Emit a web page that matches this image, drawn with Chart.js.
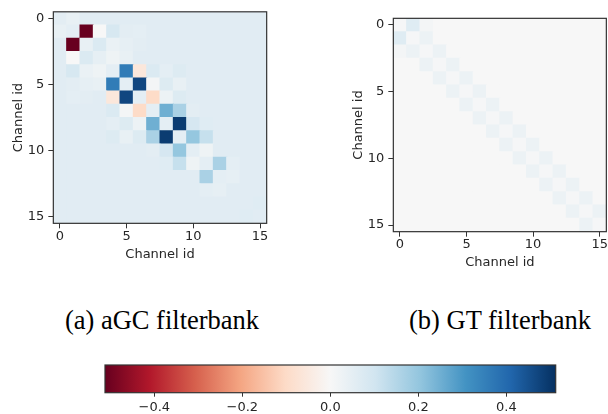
<!DOCTYPE html>
<html>
<head>
<meta charset="utf-8">
<script src="https://cdn.jsdelivr.net/npm/chart.js@4.4.1/dist/chart.umd.min.js"></script>
<style>
  html, body { margin: 0; padding: 0; background: #fff; }
  body { width: 608px; height: 414px; position: relative; overflow: hidden; }
  canvas { position: absolute; }
  .caption { position: absolute; top: 307px; font-family: "Liberation Serif", "DejaVu Serif", serif;
             font-size: 26.5px; line-height: 1; color: #000; text-align: center; white-space: nowrap; }
</style>
</head>
<body>
<canvas id="agcChart" style="left:0px;top:0px;width:280px;height:272px"></canvas>
<canvas id="gtChart" style="left:340px;top:0px;width:268px;height:280px"></canvas>
<canvas id="cbarChart" style="left:90px;top:355px;width:480px;height:59px"></canvas>
<div class="caption" style="left:62px;width:200px">(a) aGC filterbank</div>
<div class="caption" style="left:400px;width:200px">(b) GT filterbank</div>
<script>
let channels = [0, 1, 2, 3, 4, 5, 6, 7, 8, 9, 10, 11, 12, 13, 14, 15];
let axisTicks = [0, 5, 10, 15];
let cbarTicks = [-0.4, -0.2, 0.0, 0.2, 0.4];
let vMin = -0.512;
let vMax = 0.512;

// aGC filterbank correlation (row = channel id on y, column = channel id on x)
let agcMatrix = [
  [0.055, 0.04, 0.06, 0.06, 0.06, 0.06, 0.06, 0.06, 0.06, 0.06, 0.06, 0.06, 0.06, 0.06, 0.06, 0.06],
  [0.04, 0.05, -0.51, 0.0, 0.085, 0.055, 0.05, 0.06, 0.06, 0.06, 0.06, 0.06, 0.06, 0.06, 0.06, 0.06],
  [0.06, -0.51, 0.04, 0.075, 0.035, 0.045, 0.055, 0.06, 0.06, 0.06, 0.06, 0.06, 0.06, 0.06, 0.06, 0.06],
  [0.06, 0.0, 0.075, 0.045, 0.025, 0.04, 0.06, 0.06, 0.06, 0.06, 0.06, 0.06, 0.06, 0.06, 0.06, 0.06],
  [0.06, 0.085, 0.035, 0.025, 0.05, 0.36, -0.06, 0.075, 0.05, 0.07, 0.06, 0.06, 0.06, 0.06, 0.06, 0.06],
  [0.06, 0.055, 0.045, 0.04, 0.36, 0.05, 0.47, 0.01, 0.07, 0.04, 0.06, 0.06, 0.06, 0.06, 0.06, 0.06],
  [0.06, 0.05, 0.055, 0.06, -0.06, 0.47, 0.05, -0.1, 0.03, 0.07, 0.06, 0.06, 0.06, 0.06, 0.06, 0.06],
  [0.06, 0.06, 0.06, 0.06, 0.075, 0.01, -0.1, 0.05, 0.25, 0.165, 0.055, 0.06, 0.06, 0.06, 0.06, 0.06],
  [0.06, 0.06, 0.06, 0.06, 0.05, 0.07, 0.03, 0.25, 0.05, 0.49, 0.09, 0.065, 0.06, 0.06, 0.06, 0.06],
  [0.06, 0.06, 0.06, 0.06, 0.07, 0.04, 0.07, 0.165, 0.49, 0.05, 0.2, 0.12, 0.06, 0.06, 0.06, 0.06],
  [0.06, 0.06, 0.06, 0.06, 0.06, 0.06, 0.06, 0.055, 0.09, 0.2, 0.05, 0.025, 0.06, 0.06, 0.06, 0.06],
  [0.06, 0.06, 0.06, 0.06, 0.06, 0.06, 0.06, 0.06, 0.065, 0.12, 0.025, 0.05, 0.165, 0.05, 0.06, 0.06],
  [0.06, 0.06, 0.06, 0.06, 0.06, 0.06, 0.06, 0.06, 0.06, 0.06, 0.06, 0.165, 0.05, 0.045, 0.06, 0.06],
  [0.06, 0.06, 0.06, 0.06, 0.06, 0.06, 0.06, 0.06, 0.06, 0.06, 0.06, 0.05, 0.045, 0.06, 0.06, 0.06],
  [0.06, 0.06, 0.06, 0.06, 0.06, 0.06, 0.06, 0.06, 0.06, 0.06, 0.06, 0.06, 0.06, 0.06, 0.06, 0.065],
  [0.06, 0.06, 0.06, 0.06, 0.06, 0.06, 0.06, 0.06, 0.06, 0.06, 0.06, 0.06, 0.06, 0.06, 0.065, 0.06]
];

// GT filterbank correlation
let gtMatrix = [
  [0.005, 0.065, 0.01, 0, 0, 0, 0, 0, 0, 0, 0, 0, 0, 0, 0, 0],
  [0.065, 0.005, 0.03, 0, 0, 0, 0, 0, 0, 0, 0, 0, 0, 0, 0, 0],
  [0.01, 0.03, 0.005, 0.03, 0, 0, 0, 0, 0, 0, 0, 0, 0, 0, 0, 0],
  [0, 0, 0.03, 0.005, 0.03, 0, 0, 0, 0, 0, 0, 0, 0, 0, 0, 0],
  [0, 0, 0, 0.03, 0.005, 0.03, 0, 0, 0, 0, 0, 0, 0, 0, 0, 0],
  [0, 0, 0, 0, 0.03, 0.005, 0.03, 0, 0, 0, 0, 0, 0, 0, 0, 0],
  [0, 0, 0, 0, 0, 0.03, 0.005, 0.03, 0, 0, 0, 0, 0, 0, 0, 0],
  [0, 0, 0, 0, 0, 0, 0.03, 0.005, 0.03, 0, 0, 0, 0, 0, 0, 0],
  [0, 0, 0, 0, 0, 0, 0, 0.03, 0.005, 0.03, 0, 0, 0, 0, 0, 0],
  [0, 0, 0, 0, 0, 0, 0, 0, 0.03, 0.005, 0.03, 0, 0, 0, 0, 0],
  [0, 0, 0, 0, 0, 0, 0, 0, 0, 0.03, 0.005, 0.03, 0, 0, 0, 0],
  [0, 0, 0, 0, 0, 0, 0, 0, 0, 0, 0.03, 0.005, 0.03, 0, 0, 0],
  [0, 0, 0, 0, 0, 0, 0, 0, 0, 0, 0, 0.03, 0.005, 0.03, 0, 0],
  [0, 0, 0, 0, 0, 0, 0, 0, 0, 0, 0, 0, 0.03, 0.005, 0.03, 0],
  [0, 0, 0, 0, 0, 0, 0, 0, 0, 0, 0, 0, 0, 0.03, 0.005, 0.03],
  [0, 0, 0, 0, 0, 0, 0, 0, 0, 0, 0, 0, 0, 0, 0.03, 0.005]
];

// matplotlib RdBu
let rdbu = ['#67001f', '#b2182b', '#d6604d', '#f4a582', '#fddbc7', '#f7f7f7',
            '#d1e5f0', '#92c5de', '#4393c3', '#2166ac', '#053061'];

function hexRgb(h) {
  return [parseInt(h.slice(1, 3), 16), parseInt(h.slice(3, 5), 16), parseInt(h.slice(5, 7), 16)];
}

function cmap(v) {
  let t = (v - vMin) / (vMax - vMin);
  t = Math.max(0, Math.min(1, t)) * (rdbu.length - 1);
  let i = Math.min(Math.floor(t), rdbu.length - 2);
  let f = t - i;
  let a = hexRgb(rdbu[i]), b = hexRgb(rdbu[i + 1]);
  let c = a.map((x, k) => Math.round(x + (b[k] - x) * f));
  return 'rgb(' + c.join(',') + ')';
}

let textColor = '#262626';
let tickFont = { family: 'DejaVu Sans', size: 13 };

let framePlugin = {
  id: 'frame',
  afterDraw(chart) {
    let a = chart.chartArea;
    let ctx = chart.ctx;
    ctx.save();
    ctx.strokeStyle = '#333';
    ctx.lineWidth = 1.2;
    ctx.strokeRect(a.left, a.top, a.right - a.left, a.bottom - a.top);
    ctx.restore();
  }
};

function heatmap(canvasId, matrix, box) {
  let cells = [];
  matrix.forEach((row, r) => {
    row.forEach((v, c) => {
      cells.push({ x: channels[c], y: [channels[r] - 0.5, channels[r] + 0.5], v: v });
    });
  });
  let canvas = document.getElementById(canvasId);
  return new Chart(canvas.getContext('2d'), {
    type: 'bar',
    data: {
      datasets: [{
        data: cells,
        backgroundColor: ctx => cmap(ctx.raw.v),
        borderWidth: 0,
        inflateAmount: 0.5,
        barPercentage: 1,
        categoryPercentage: 1
      }]
    },
    options: {
      responsive: false,
      animation: false,
      layout: { padding: { top: box.top, right: box.right, left: 0, bottom: 0 } },
      plugins: { legend: { display: false }, tooltip: { enabled: false } },
      scales: {
        x: {
          type: 'linear',
          offset: false,
          min: -0.5,
          max: 15.5,
          afterBuildTicks: s => { s.ticks = axisTicks.map(v => ({ value: v })); },
          afterFit: s => { s.height = box.xHeight; },
          grid: { offset: false, drawOnChartArea: false, tickLength: 5, tickColor: '#333', tickWidth: 1 },
          border: { display: false },
          ticks: { color: textColor, font: tickFont, padding: 0, maxRotation: 0 },
          title: { display: true, text: 'Channel id', color: textColor, font: tickFont,
                   padding: { top: 0, bottom: box.titlePad } }
        },
        y: {
          type: 'linear',
          reverse: true,
          min: -0.5,
          max: 15.5,
          afterBuildTicks: s => { s.ticks = axisTicks.map(v => ({ value: v })); },
          afterFit: s => { s.width = 53.33; },
          grid: { drawOnChartArea: false, tickLength: 5, tickColor: '#333', tickWidth: 1 },
          border: { display: false },
          ticks: { color: textColor, font: tickFont, padding: 4 },
          title: { display: true, text: 'Channel id', color: textColor, font: tickFont,
                   padding: { top: 10.5, bottom: 0 } }
        }
      }
    },
    plugins: [framePlugin]
  });
}

let agcChart = heatmap('agcChart', agcMatrix, { top: 10, right: 13.33, xHeight: 48.67, titlePad: 9.9 });
let gtChart = heatmap('gtChart', gtMatrix, { top: 18.33, right: 1.33, xHeight: 48.33, titlePad: 9.5 });

let gradientPlugin = {
  id: 'gradientBar',
  beforeDatasetsDraw(chart) {
    let a = chart.chartArea;
    let ctx = chart.ctx;
    let xs = chart.scales.x;
    let x0 = xs.getPixelForValue(vMin), x1 = xs.getPixelForValue(vMax);
    let g = ctx.createLinearGradient(x0, 0, x1, 0);
    rdbu.forEach((c, i) => g.addColorStop(i / (rdbu.length - 1), c));
    ctx.save();
    ctx.fillStyle = g;
    ctx.fillRect(x0, a.top, x1 - x0, a.bottom - a.top);
    ctx.restore();
  }
};

let cbarCanvas = document.getElementById('cbarChart');
let cbarChart = new Chart(cbarCanvas.getContext('2d'), {
  type: 'scatter',
  data: { datasets: [{ data: [] }] },
  options: {
    responsive: false,
    animation: false,
    layout: { padding: { top: 10, right: 14.3, left: 15, bottom: 0 } },
    plugins: { legend: { display: false }, tooltip: { enabled: false } },
    scales: {
      x: {
        type: 'linear',
        min: vMin,
        max: vMax,
        afterBuildTicks: s => { s.ticks = cbarTicks.map(v => ({ value: v })); },
        afterFit: s => { s.height = 21.3; },
        grid: { drawOnChartArea: false, tickLength: 4, tickColor: '#333', tickWidth: 1 },
        border: { display: false },
        ticks: {
          color: textColor, font: tickFont, padding: 3, maxRotation: 0,
          callback: v => v.toFixed(1).replace('-', '\u2212')
        }
      },
      y: { display: false, min: 0, max: 1 }
    }
  },
  plugins: [gradientPlugin, framePlugin]
});
</script>
</body>
</html>
